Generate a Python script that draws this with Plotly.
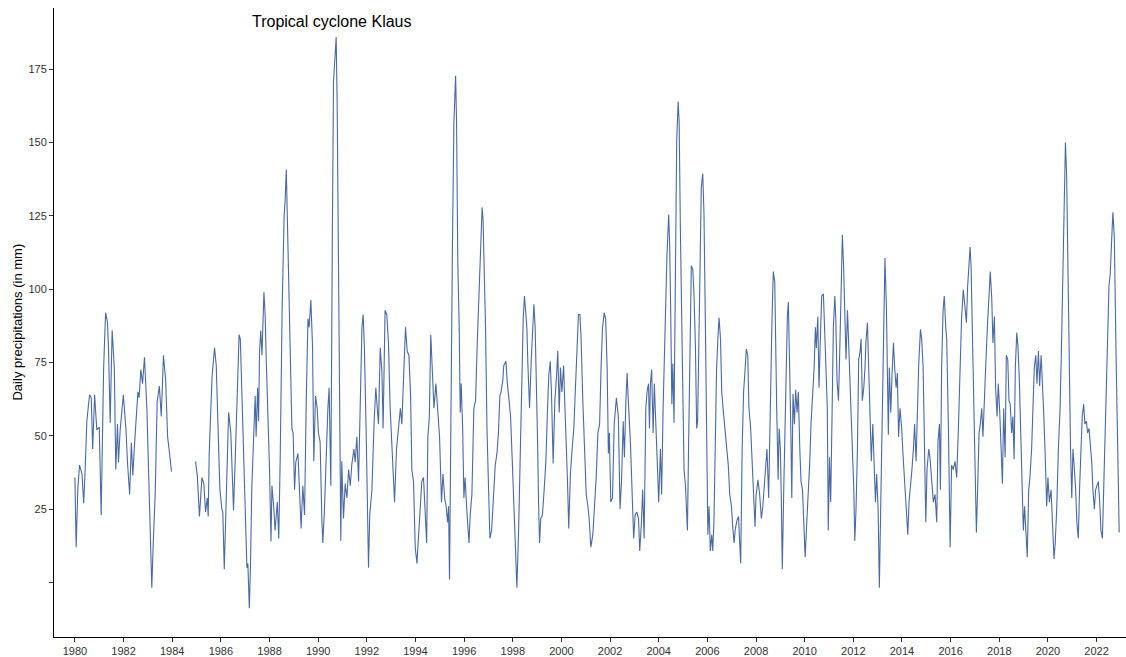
import plotly.graph_objects as go

# Decimal-year dates and smoothed daily precipitation (mm)
years = [
    1980.00, 1980.05, 1980.12, 1980.19, 1980.29, 1980.36, 1980.42, 1980.49, 1980.60, 1980.67,
    1980.73, 1980.81, 1980.90, 1981.00, 1981.08, 1981.18, 1981.26, 1981.34, 1981.38, 1981.45,
    1981.53, 1981.62, 1981.68, 1981.75, 1981.79, 1981.86, 1981.99, 1982.10, 1982.16, 1982.25,
    1982.32, 1982.38, 1982.45, 1982.52, 1982.59, 1982.64, 1982.71, 1982.78, 1982.86, 1982.96,
    1983.05, 1983.11, 1983.16, 1983.22, 1983.30, 1983.38, 1983.47, 1983.55, 1983.64, 1983.73,
    1983.81, 1983.89, 1983.97,
    1984.50,
    1984.96, 1985.03, 1985.12, 1985.22, 1985.30, 1985.37, 1985.44, 1985.48, 1985.52, 1985.58,
    1985.64, 1985.74, 1985.81, 1985.88, 1985.96, 1986.04, 1986.08, 1986.14, 1986.21, 1986.32,
    1986.41, 1986.52,
    1986.59, 1986.66, 1986.75, 1986.80, 1986.86, 1986.93, 1987.00, 1987.07, 1987.11, 1987.17,
    1987.22, 1987.27, 1987.34, 1987.41, 1987.45, 1987.51, 1987.55, 1987.59, 1987.64, 1987.69,
    1987.77, 1987.82, 1987.86, 1987.92, 1988.00, 1988.06, 1988.10, 1988.17, 1988.23, 1988.32,
    1988.38, 1988.44, 1988.52, 1988.60, 1988.64, 1988.69, 1988.74, 1988.81, 1988.86, 1988.92,
    1988.97, 1989.03, 1989.08, 1989.17, 1989.23, 1989.30, 1989.37, 1989.44, 1989.51, 1989.58,
    1989.63, 1989.70, 1989.77, 1989.82, 1989.89, 1989.96, 1990.01, 1990.08, 1990.15, 1990.19,
    1990.25, 1990.32, 1990.40, 1990.45, 1990.52, 1990.58, 1990.63, 1990.70, 1990.74, 1990.78,
    1990.84, 1990.89, 1990.93, 1990.97, 1991.04, 1991.11, 1991.18, 1991.25, 1991.32, 1991.38,
    1991.47, 1991.52, 1991.59, 1991.66, 1991.73, 1991.80, 1991.85, 1991.90, 1991.97, 1992.01,
    1992.07, 1992.12, 1992.21, 1992.30, 1992.37, 1992.43, 1992.48, 1992.55, 1992.62, 1992.67,
    1992.75, 1992.82, 1992.89, 1992.96, 1993.03, 1993.10, 1993.14, 1993.22, 1993.30, 1993.38,
    1993.44, 1993.51, 1993.59, 1993.66, 1993.73, 1993.80, 1993.85, 1993.92, 1993.99,
    1994.06, 1994.15, 1994.26, 1994.33, 1994.40, 1994.46, 1994.51, 1994.57, 1994.63, 1994.70,
    1994.76, 1994.84, 1994.92, 1994.99, 1995.07, 1995.13, 1995.20, 1995.26, 1995.32, 1995.36,
    1995.40, 1995.46, 1995.52, 1995.58, 1995.65, 1995.69, 1995.74, 1995.80, 1995.84, 1995.88,
    1995.94, 1995.99, 1996.04, 1996.11, 1996.20, 1996.25, 1996.32, 1996.40, 1996.47, 1996.54,
    1996.59, 1996.65, 1996.70, 1996.74, 1996.78, 1996.83, 1996.88, 1996.94, 1996.99, 1997.06,
    1997.13, 1997.20, 1997.28, 1997.35, 1997.41, 1997.47, 1997.52, 1997.59, 1997.63, 1997.72,
    1997.77, 1997.85, 1997.91, 1997.98, 1998.04, 1998.10, 1998.17, 1998.24, 1998.32, 1998.37,
    1998.43, 1998.48, 1998.52, 1998.58, 1998.62, 1998.69, 1998.76, 1998.81, 1998.87, 1998.92,
    1998.96, 1999.02, 1999.06, 1999.10, 1999.15, 1999.22, 1999.29, 1999.36, 1999.43, 1999.48,
    1999.54, 1999.59, 1999.66, 1999.73, 1999.80, 1999.85, 1999.91, 1999.96, 2000.02, 2000.09,
    2000.14, 2000.21, 2000.25, 2000.30, 2000.37, 2000.44, 2000.51, 2000.57, 2000.63, 2000.70,
    2000.76, 2000.81, 2000.88, 2000.95, 2001.02, 2001.09, 2001.14, 2001.21, 2001.29, 2001.36,
    2001.43, 2001.50, 2001.57, 2001.63, 2001.69, 2001.76,
    2001.82, 2001.88, 2001.93, 2001.97, 2002.03, 2002.10, 2002.17, 2002.26, 2002.34, 2002.41,
    2002.47, 2002.54, 2002.59, 2002.65, 2002.70, 2002.75, 2002.84, 2002.92, 2002.97, 2003.03,
    2003.10, 2003.17, 2003.22, 2003.29, 2003.34, 2003.40, 2003.47, 2003.52, 2003.58, 2003.62,
    2003.66, 2003.71, 2003.77, 2003.82, 2003.88, 2003.93, 2004.00, 2004.07, 2004.12, 2004.18,
    2004.25, 2004.30, 2004.34, 2004.41, 2004.45, 2004.49, 2004.54, 2004.58, 2004.63, 2004.69,
    2004.74, 2004.80, 2004.84, 2004.89, 2004.95, 2005.00, 2005.04, 2005.10, 2005.14, 2005.18,
    2005.23, 2005.29, 2005.34, 2005.40, 2005.45, 2005.51, 2005.56, 2005.60, 2005.65, 2005.70,
    2005.75, 2005.81, 2005.86, 2005.92, 2005.97, 2006.02, 2006.07, 2006.12, 2006.18, 2006.22,
    2006.27, 2006.33, 2006.38, 2006.44, 2006.48, 2006.54, 2006.59, 2006.66, 2006.73, 2006.80,
    2006.86, 2006.92, 2006.99, 2007.04, 2007.10, 2007.14, 2007.21, 2007.28, 2007.33, 2007.37,
    2007.43, 2007.49, 2007.55, 2007.60, 2007.66, 2007.71, 2007.78, 2007.84, 2007.89, 2007.96,
    2008.00, 2008.08, 2008.15, 2008.22, 2008.28, 2008.34, 2008.40, 2008.45, 2008.52, 2008.58,
    2008.65, 2008.71, 2008.77,
    2008.85, 2008.91, 2008.95, 2009.00, 2009.04, 2009.08, 2009.14, 2009.19, 2009.25, 2009.29,
    2009.33, 2009.39, 2009.43, 2009.47, 2009.52, 2009.58, 2009.63, 2009.69, 2009.74, 2009.80,
    2009.85, 2009.91, 2009.96, 2010.02, 2010.07, 2010.14, 2010.21, 2010.26, 2010.33, 2010.39,
    2010.44, 2010.48, 2010.54, 2010.59, 2010.65, 2010.70, 2010.77, 2010.82, 2010.88, 2010.93,
    2010.97, 2011.02, 2011.07, 2011.13, 2011.18, 2011.24, 2011.28, 2011.33, 2011.39, 2011.44,
    2011.50, 2011.55, 2011.60, 2011.66, 2011.70, 2011.76, 2011.81, 2011.87, 2011.92, 2011.97,
    2012.02, 2012.06, 2012.11, 2012.17, 2012.22, 2012.28, 2012.32, 2012.37, 2012.43, 2012.48,
    2012.52, 2012.58, 2012.63, 2012.69, 2012.74, 2012.80, 2012.85, 2012.91, 2012.96, 2013.02,
    2013.07, 2013.13, 2013.18, 2013.24, 2013.30, 2013.36, 2013.40, 2013.44, 2013.48, 2013.54,
    2013.59, 2013.65, 2013.70, 2013.76, 2013.81, 2013.86, 2013.92, 2013.99, 2014.04, 2014.11,
    2014.17, 2014.24, 2014.29, 2014.36, 2014.41, 2014.47, 2014.52, 2014.58, 2014.63, 2014.69,
    2014.76, 2014.81, 2014.87, 2014.92, 2014.98, 2015.03, 2015.10, 2015.15, 2015.22, 2015.29,
    2015.36, 2015.43, 2015.48, 2015.54, 2015.58, 2015.63, 2015.69, 2015.74, 2015.80,
    2015.84, 2015.91, 2015.98, 2016.04, 2016.11, 2016.18, 2016.25, 2016.32, 2016.39, 2016.45,
    2016.52, 2016.59, 2016.65, 2016.70, 2016.76, 2016.80, 2016.84, 2016.89, 2016.95, 2017.00,
    2017.06, 2017.11, 2017.17, 2017.22, 2017.28, 2017.33, 2017.39, 2017.44, 2017.51, 2017.56,
    2017.63, 2017.69, 2017.74, 2017.80, 2017.85, 2017.91, 2017.96, 2018.02, 2018.07, 2018.13,
    2018.18, 2018.24, 2018.29, 2018.35, 2018.40, 2018.45, 2018.51, 2018.56, 2018.61, 2018.66,
    2018.72, 2018.77, 2018.82, 2018.88, 2018.93, 2018.99, 2019.04, 2019.10, 2019.15, 2019.21,
    2019.26, 2019.33, 2019.39, 2019.44, 2019.50, 2019.55, 2019.61, 2019.66, 2019.72, 2019.77,
    2019.82, 2019.88, 2019.95, 2020.00, 2020.06, 2020.13, 2020.18, 2020.25, 2020.30, 2020.36,
    2020.43, 2020.50, 2020.55, 2020.61, 2020.66, 2020.72, 2020.77, 2020.82, 2020.88, 2020.93,
    2020.98, 2021.03, 2021.09, 2021.14, 2021.19, 2021.25, 2021.30, 2021.36, 2021.41, 2021.47,
    2021.52, 2021.58, 2021.63, 2021.69, 2021.74, 2021.80, 2021.85, 2021.91, 2021.96, 2022.02,
    2022.07, 2022.13, 2022.18, 2022.24, 2022.29, 2022.35, 2022.40, 2022.45, 2022.51, 2022.56,
    2022.62, 2022.67, 2022.73, 2022.77, 2022.81, 2022.87, 2022.93,
]

precip = [
    35.8, 12.0, 32.0, 40.0, 37.0, 27.0, 38.5, 55.0, 64.0, 63.0,
    45.5, 64.0, 52.0, 53.0, 23.0, 73.0, 92.0, 88.6, 80.0, 54.5,
    86.0, 73.0, 38.5, 54.0, 41.0, 52.0, 64.0, 52.0, 41.0, 30.0,
    47.6, 36.5, 47.0, 55.0, 65.0, 63.0, 72.6, 67.8, 76.8, 59.0,
    30.0, 20.5, -1.8, 13.5, 30.0, 61.5, 67.0, 56.6, 77.5, 69.0,
    49.7, 44.0, 37.8,
    None,
    41.3, 36.5, 22.5, 35.8, 33.7, 24.0, 28.8, 22.5, 44.0, 56.6,
    70.5, 80.0, 74.0, 54.0, 31.6, 25.0, 24.0, 4.5, 27.4, 58.0,
    51.0, 24.6,
    42.0, 65.0, 84.5, 83.0, 66.0, 42.7, 17.7, 5.0, 6.5, -8.8,
    6.5, 31.6, 48.0, 63.6, 49.7, 66.4, 55.0, 78.9, 85.9, 77.5,
    99.0, 91.4, 77.5, 62.0, 38.5, 14.0, 33.0, 26.0, 17.7, 27.4,
    15.0, 42.7, 94.0, 124.8, 130.0, 140.8, 123.4, 94.0, 83.0, 52.5,
    51.0, 31.6, 41.0, 44.0, 31.6, 18.4, 33.0, 23.0, 62.0, 90.0,
    87.0, 96.3, 80.0, 41.3, 63.6, 59.4, 51.0, 48.0, 21.8, 13.5,
    23.0, 44.0, 59.4, 66.4, 33.0, 115.0, 170.7, 180.5, 186.0, 163.8,
    101.0, 45.5, 14.2, 41.3, 21.8, 33.7, 28.8, 38.5, 33.0, 40.0,
    45.5, 41.0, 49.7, 34.4, 63.6, 87.0, 91.4, 80.0, 52.5, 30.0,
    5.0, 23.0, 31.6, 55.0, 66.4, 59.4, 54.0, 80.0, 72.0, 52.5,
    92.8, 91.4, 81.7, 59.4, 45.5, 35.8, 27.4, 45.5, 54.0, 59.4,
    54.0, 67.8, 87.0, 78.9, 77.5, 63.6, 38.5, 34.4, 12.0,
    6.5, 20.5, 34.4, 35.8, 26.0, 13.5, 49.7, 56.6, 84.5, 73.3,
    59.4, 67.8, 58.0, 49.7, 27.4, 37.0, 28.8, 26.0, 20.5, 26.0,
    1.0, 66.4, 115.0, 156.8, 172.8, 156.8, 109.5, 85.9, 58.0, 67.8,
    52.5, 28.8, 35.8, 24.6, 13.5, 23.0, 30.0, 59.4, 62.0, 81.7,
    92.8, 108.0, 120.6, 127.9, 123.4, 108.0, 87.0, 52.5, 31.6, 15.0,
    17.7, 28.8, 40.0, 44.0, 51.0, 63.6, 65.0, 69.0, 74.0, 75.4,
    68.5, 62.0, 56.6, 41.3, 26.0, 17.7, -1.8, 17.7, 45.5, 73.3,
    90.0, 97.7, 92.8, 87.0, 74.7, 59.4, 76.0, 84.5, 94.9, 87.0,
    73.3, 48.0, 27.4, 13.5, 21.8, 23.0, 31.6, 41.3, 59.4, 70.5,
    75.4, 65.0, 40.6, 62.0, 70.5, 78.9, 58.0, 73.3, 65.0, 74.0,
    60.8, 45.5, 34.4, 18.4, 37.0, 45.5, 52.5, 65.0, 76.0, 91.4,
    91.4, 83.0, 62.0, 45.5, 30.0, 26.0, 21.8, 12.0, 16.3, 26.0,
    35.8, 51.0, 54.0, 73.3, 87.0, 92.0,
    89.7, 73.3, 44.0, 51.0, 27.4, 28.8, 54.0, 63.0, 56.6, 25.0,
    34.4, 55.0, 42.7, 62.0, 71.4, 62.0, 47.0, 27.4, 15.0, 23.0,
    24.0, 21.8, 10.7, 20.5, 31.6, 15.0, 59.4, 65.0, 67.8, 52.5,
    67.8, 72.6, 51.0, 67.8, 55.0, 38.5, 27.4, 45.5, 30.0, 59.4,
    83.0, 94.0, 112.0, 125.5, 115.0, 94.0, 60.8, 74.7, 54.5, 108.0,
    151.0, 164.0, 156.8, 120.6, 87.0, 52.5, 38.5, 33.0, 24.6, 17.7,
    48.0, 80.0, 108.0, 106.7, 98.4, 80.0, 52.5, 55.0, 84.5, 115.0,
    134.6, 139.4, 126.0, 87.0, 48.0, 16.3, 26.0, 10.7, 16.3, 10.7,
    20.5, 52.5, 73.3, 84.5, 90.3, 83.0, 65.0, 58.0, 51.0, 44.0,
    40.0, 30.0, 26.0, 19.0, 13.5, 17.7, 21.0, 22.5, 15.0, 6.5,
    45.5, 65.0, 72.6, 79.6, 77.5, 59.4, 52.5, 40.0, 31.6, 19.0,
    29.5, 35.0, 30.0, 21.8, 26.0, 33.0, 40.0, 45.5, 28.8, 59.4,
    87.0, 106.0, 102.6,
    59.4, 35.0, 52.5, 45.5, 28.8, 4.5, 31.6, 54.0, 87.0, 91.4,
    95.6, 73.3, 52.5, 28.8, 64.3, 54.0, 65.7, 58.0, 65.0, 45.5,
    34.4, 31.6, 17.7, 8.6, 17.7, 27.4, 41.3, 54.0, 63.6, 73.3,
    87.0, 80.0, 90.7, 66.4, 84.5, 97.7, 98.4, 88.6, 72.0, 59.4,
    17.7, 42.7, 27.4, 59.4, 87.0, 97.7, 90.0, 69.0, 62.0, 78.0,
    101.0, 118.6, 108.0, 87.0, 76.0, 92.8, 80.0, 72.0, 56.6, 45.5,
    31.6, 14.2, 24.6, 45.5, 76.0, 78.9, 83.0, 62.0, 66.4, 73.3,
    82.3, 88.6, 73.3, 59.4, 41.3, 54.0, 38.5, 27.4, 37.0, 24.6,
    -1.8, 31.6, 59.4, 90.0, 110.6, 94.0, 73.3, 50.4, 73.3, 58.0,
    70.5, 81.7, 73.3, 66.4, 71.4, 49.7, 59.4, 52.5, 44.0, 34.4,
    28.8, 16.3, 27.4, 33.0, 38.5, 45.5, 54.0, 41.3, 59.4, 74.7,
    86.3, 83.0, 73.3, 52.5, 20.5, 38.5, 45.5, 42.7, 34.4, 27.4,
    30.0, 20.5, 48.0, 54.0, 31.6, 73.3, 92.8, 97.7, 87.0,
    83.0, 52.5, 12.0, 40.0, 38.5, 41.3, 35.8, 52.5, 73.3, 90.0,
    99.8, 94.0, 88.6, 101.0, 109.5, 114.4, 108.0, 87.0, 59.4, 34.4,
    17.0, 31.6, 51.0, 54.0, 59.4, 49.7, 66.4, 73.3, 87.0, 94.0,
    106.0, 97.0, 81.7, 90.7, 66.4, 56.6, 67.8, 58.0, 45.5, 33.7,
    59.4, 42.7, 77.5, 76.0, 62.0, 60.8, 51.0, 56.6, 42.0, 73.3,
    85.2, 80.0, 70.5, 52.5, 31.6, 17.7, 26.0, 17.7, 8.6, 31.6,
    35.8, 45.5, 59.4, 73.3, 77.5, 67.8, 78.9, 67.0, 77.5, 70.5,
    59.4, 45.5, 26.0, 35.8, 27.4, 31.6, 20.5, 8.0, 13.5, 24.6,
    45.5, 59.4, 77.5, 101.0, 129.0, 150.0, 138.7, 108.0, 73.3, 45.5,
    28.8, 45.5, 38.5, 31.6, 20.5, 15.0, 31.6, 45.5, 56.6, 60.8,
    54.0, 55.0, 51.0, 52.5, 48.0, 41.3, 31.6, 25.0, 31.6, 33.0,
    34.4, 27.4, 17.7, 15.0, 31.6, 52.5, 73.3, 84.5, 101.0, 105.0,
    117.8, 126.2, 117.8, 101.0, 73.3, 45.5, 17.0,
]

tick_years = list(range(1980, 2023, 2))
y_ticks = [0, 25, 50, 75, 100, 125, 150, 175]
y_ticktext = ["", "25", "50", "75", "100", "125", "150", "175"]

annotation_text = "Tropical cyclone Klaus"
y_title = "Daily precipitations (in mm)"

FONT = "Liberation Sans, Arial, sans-serif"

fig = go.Figure()
fig.add_trace(go.Scatter(
    x=years, y=precip, mode="lines",
    line=dict(color="#4a6aa5", width=1.1),
    connectgaps=False, hoverinfo="x+y", showlegend=False,
))

fig.add_annotation(
    x=1990.53, y=191.4, text=annotation_text, showarrow=False,
    font=dict(family=FONT, size=16, color="#000000"),
    xanchor="center", yanchor="middle",
)

fig.add_annotation(
    xref="paper", yref="paper", x=-0.0345, y=0.5,
    text=y_title, showarrow=False, textangle=-90,
    font=dict(family=FONT, size=13, color="#000000"),
    xanchor="center", yanchor="middle",
)

axis_font = dict(family=FONT, size=11, color="#333333")

fig.update_layout(
    template="none",
    width=1126, height=657,
    margin=dict(l=54, r=0, t=8, b=20, pad=0),
    paper_bgcolor="white", plot_bgcolor="white",
    font=dict(family=FONT, color="#333333"),
    showlegend=False,
    xaxis=dict(
        range=[1979.14, 2023.21], tickmode="array", tickvals=tick_years,
        ticktext=[str(t) for t in tick_years], automargin=False,
        showgrid=False, zeroline=False, showline=True, linecolor="#000000", linewidth=1,
        ticks="outside", ticklen=4, tickwidth=1, tickcolor="#333333",
        tickfont=axis_font,
    ),
    yaxis=dict(
        range=[-18.6, 195.9], tickmode="array", tickvals=y_ticks, ticktext=y_ticktext,
        automargin=False,
        showgrid=False, zeroline=False, showline=True, linecolor="#000000", linewidth=1,
        ticks="outside", ticklen=4, tickwidth=1, tickcolor="#333333",
        tickfont=axis_font,
    ),
)

fig.write_html(
    "out.html",
    config={"displayModeBar": False},
    post_script="document.body.style.margin='0';document.body.style.padding='0';"
                "document.body.style.overflow='hidden';",
)
